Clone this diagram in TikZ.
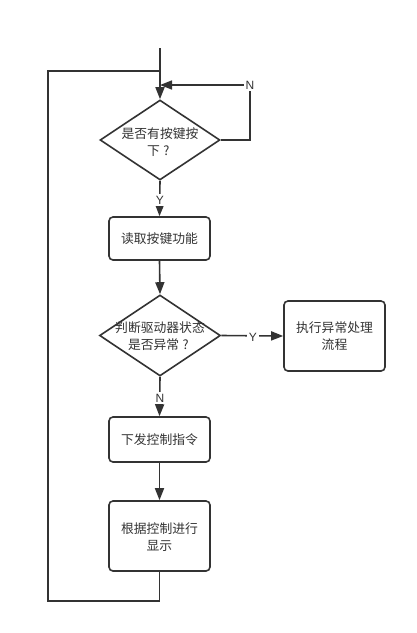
\documentclass[tikz,border=0pt]{standalone}
\usepackage{fontspec}
\newfontfamily\cjk{Noto Sans CJK SC}
\newfontfamily\latinsf{Liberation Sans}
\usetikzlibrary{shapes.geometric,arrows.meta}
\definecolor{ink}{HTML}{333333}
\newcommand{\cq}{\makebox[12.8pt][c]{?}}
\tikzset{
  line/.style={draw=ink,line width=1.6pt},
  arr/.style={line,-{Triangle[length=12pt,width=9pt]}},
  stepbox/.style={line,rounded corners=4pt,minimum width=101pt,inner sep=0pt},
  dia/.style={line,diamond,minimum width=120pt,minimum height=80pt,inner sep=0pt},
  txt/.style={text=ink,font=\cjk\fontsize{12.8}{17}\selectfont,align=center,inner sep=0pt},
  lab/.style={fill=white,text=ink,font=\latinsf\fontsize{12}{14}\selectfont,inner sep=2pt}
}
\begin{document}
\begin{tikzpicture}[x=1pt,y=-1pt]
\useasboundingbox (0,0) rectangle (416,633);
\fill[white] (0,0) rectangle (416,633);
% nodes
\node[dia] (d1) at (160,140) {};
\node[txt] (t1) at (160,142) {是否有按键按\\下\cq};
\node[stepbox,minimum height=43pt] (b1) at (159.5,238.5) {};
\node[txt] (t2) at (b1.center) {读取按键功能};
\node[dia,minimum width=121pt,minimum height=81pt] (d2) at (160,335.5) {};
\node[txt] (t3) at (160,336.5) {判断驱动器状态\\是否异常\cq};
\node[stepbox,minimum height=70pt] (b2) at (334.5,336) {};
\node[txt] (t4) at (334.5,336.5) {执行异常处理\\流程};
\node[stepbox,minimum height=45pt] (b3) at (159.5,439.5) {};
\node[txt] (t5) at (b3.center) {下发控制指令};
\node[stepbox,minimum height=70pt] (b4) at (159.5,536) {};
\node[txt] (t6) at (159.5,537) {根据控制进行\\显示};
% coordinates
\coordinate (top) at (160,48);
\coordinate (nc) at (250,85);
\coordinate (bl) at (48,601);
\coordinate (tl) at (48,71);
% connectors
\draw[arr] (top) -- (d1.north);
\draw[arr] (d1.east) -| (nc) -- (d1.north |- nc);
\draw[arr] (d1.south) -- (b1.north);
\draw[arr] (b1.south) -- (d2.north);
\draw[arr] (d2.east) -- (b2.west);
\draw[arr] (d2.south) -- (b3.north);
\draw[arr] (b3.south) -- (b4.north);
\draw[line] (b4.south) -- (b4.south |- bl) -- (bl) -- (tl) -- (tl -| top);
% labels
\node[lab] (ln1) at (nc) {N};
\node[lab] (ly1) at (160,200) {Y};
\node[lab] (ly2) at (253,337) {Y};
\node[lab] (ln2) at (160,398) {N};
\end{tikzpicture}
\end{document}
